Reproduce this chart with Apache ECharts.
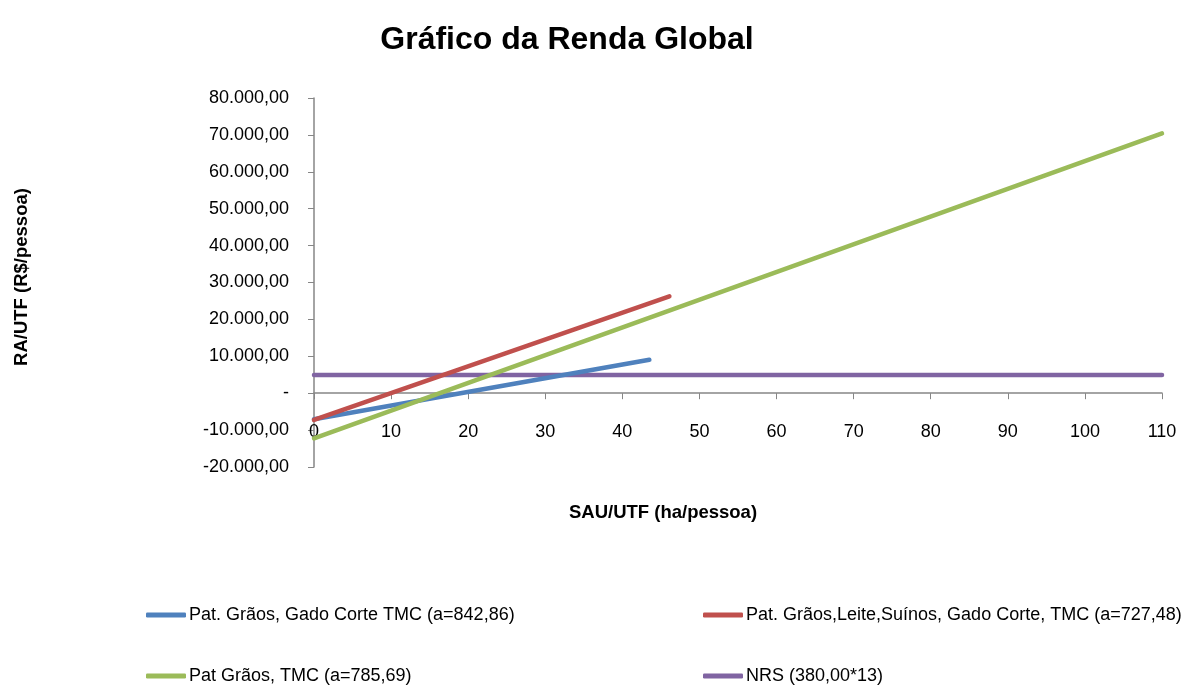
<!DOCTYPE html>
<html>
<head>
<meta charset="utf-8">
<script src="https://cdn.jsdelivr.net/npm/echarts@6/dist/echarts.min.js"></script>
<style>
  html, body { margin: 0; padding: 0; background: #fff; }
  #chart { width: 1183px; height: 688px; }
</style>
</head>
<body>
<div id="chart"></div>
<script>
// dados
var nomes = [
    'Pat. Grãos, Gado Corte TMC (a=842,86)',
    'Pat. Grãos,Leite,Suínos, Gado Corte, TMC (a=727,48)',
    'Pat Grãos, TMC (a=785,69)',
    'NRS (380,00*13)'
];
var cores = ['#4F81BD', '#C0504D', '#9BBB59', '#8064A2'];

var azulX = [0, 43.5];
var azulY = [-7070, 9050];
var vermelhoX = [0, 46.1];
var vermelhoY = [-7250, 26250];
var verdeX = [0, 110];
var verdeY = [-12230, 70400];
var nrsX = [0, 110];
var nrsY = [4940, 4940];

function pares(xs, ys) {
    return xs.map(function (x, i) { return [x, ys[i]]; });
}

function fmt(v) {
    if (v === 0) return '-';
    var s = Math.abs(v).toFixed(0).replace(/\B(?=(\d{3})+(?!\d))/g, '.');
    return (v < 0 ? '-' : '') + s + ',00';
}

var fonte = '"Liberation Sans", Arial, sans-serif';
var chart = echarts.init(document.getElementById('chart'));

var series = [
    pares(azulX, azulY),
    pares(vermelhoX, vermelhoY),
    pares(verdeX, verdeY),
    pares(nrsX, nrsY)
].map(function (d, i) {
    return {
        name: nomes[i],
        type: 'line',
        data: d,
        showSymbol: false,
        symbol: 'none',
        color: cores[i],
        lineStyle: { width: 4.5, color: cores[i], cap: 'round' },
        z: i === 3 ? 1 : 2
    };
});

var legPos = [[146, 606], [703, 606], [146, 667], [703, 667]];
var legends = nomes.map(function (n, i) {
    return {
        data: [n],
        left: legPos[i][0],
        top: legPos[i][1],
        icon: 'roundRect',
        itemWidth: 40,
        itemHeight: 5,
        itemGap: 0,
        padding: 0,
        textStyle: { fontFamily: fonte, fontSize: 18, color: '#000', padding: [0, 0, 0, -2] }
    };
});

var option = {
    animation: false,
    title: {
        text: 'Gráfico da Renda Global',
        left: 562,
        top: 19,
        textAlign: 'center',
        textStyle: { fontFamily: fonte, fontSize: 32, fontWeight: 'bold', color: '#000' }
    },
    legend: legends,
    grid: { left: 314, top: 98, right: 21, bottom: 221, containLabel: false },
    graphic: [
        {
            type: 'text',
            x: 663,
            y: 513,
            style: {
                text: 'SAU/UTF (ha/pessoa)',
                font: 'bold 18.5px "Liberation Sans", Arial, sans-serif',
                fill: '#000',
                textAlign: 'center',
                textVerticalAlign: 'middle'
            }
        },
        {
            type: 'text',
            x: 22,
            y: 277,
            rotation: Math.PI / 2,
            style: {
                text: 'RA/UTF (R$/pessoa)',
                font: 'bold 18.5px "Liberation Sans", Arial, sans-serif',
                fill: '#000',
                textAlign: 'center',
                textVerticalAlign: 'middle'
            }
        }
    ],
    xAxis: {
        type: 'value',
        min: 0,
        max: 110,
        interval: 10,
        axisLine: { show: true, onZero: true, lineStyle: { color: '#868686', width: 1.5 } },
        axisTick: { show: true, length: 6, lineStyle: { color: '#868686' } },
        splitLine: { show: false },
        axisLabel: {
            margin: -44,
            showMinLabel: true,
            showMaxLabel: true,
            fontFamily: fonte,
            fontSize: 18,
            color: '#000'
        }
    },
    yAxis: {
        type: 'value',
        min: -20000,
        max: 80000,
        interval: 10000,
        axisLine: { show: true, onZero: false, lineStyle: { color: '#868686', width: 1.5 } },
        axisTick: { show: true, length: 6, lineStyle: { color: '#868686' } },
        splitLine: { show: false },
        axisLabel: {
            margin: 25,
            fontFamily: fonte,
            fontSize: 18,
            color: '#000',
            formatter: fmt
        }
    },
    series: series
};

chart.setOption(option);
window.addEventListener('resize', function () {
    chart.resize();
});
</script>
</body>
</html>
